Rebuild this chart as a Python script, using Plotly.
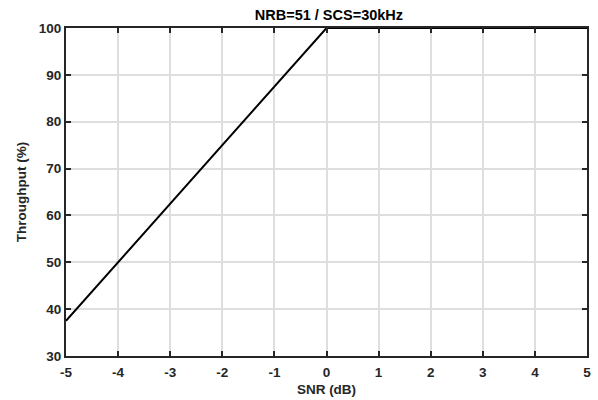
import plotly.graph_objects as go

snr_db = [-5, -4, -3, -2, -1, 0, 1, 2, 3, 4, 5]
throughput = [37.5, 50, 62.5, 75, 87.5, 100, 100, 100, 100, 100, 100]
x_ticks = [-5, -4, -3, -2, -1, 0, 1, 2, 3, 4, 5]
y_ticks = [30, 40, 50, 60, 70, 80, 90, 100]
title_text = "NRB=51 / SCS=30kHz"

axcol = "#262626"
fnt = "Liberation Sans, Arial, Helvetica, sans-serif"

fig = go.Figure()
fig.add_trace(go.Scatter(x=snr_db, y=throughput, mode="lines",
                         line=dict(color="black", width=2), showlegend=False,
                         cliponaxis=False))

common = dict(showline=True, linecolor=axcol, linewidth=2, mirror="ticks",
              ticks="inside", ticklen=5, tickwidth=1.5, tickcolor=axcol,
              showgrid=True, gridcolor="#dedede", gridwidth=1.5, zeroline=False,
              automargin=False,
              tickfont=dict(family=fnt, size=13.5, color=axcol, weight="bold"))

fig.update_xaxes(range=[-5, 5], tickvals=x_ticks, ticktext=[str(v) for v in x_ticks],
                 ticklabelstandoff=3,
                 title=dict(text="SNR (dB)", standoff=5,
                            font=dict(family=fnt, size=13.5, color=axcol, weight="bold")),
                 **common)
fig.update_yaxes(range=[30, 100], tickvals=y_ticks,
                 title=dict(text="Throughput (%)", standoff=9,
                            font=dict(family=fnt, size=13.5, color=axcol, weight="bold")),
                 **common)

fig.update_layout(
    width=598, height=400,
    margin=dict(l=66, r=11, t=28, b=44),
    plot_bgcolor="white", paper_bgcolor="white",
    title=dict(text=title_text, x=0.55, xanchor="center", y=0.962, yanchor="middle",
               font=dict(family=fnt, size=14.5, color="black", weight="bold")),
)

fig.write_html("out.html")
